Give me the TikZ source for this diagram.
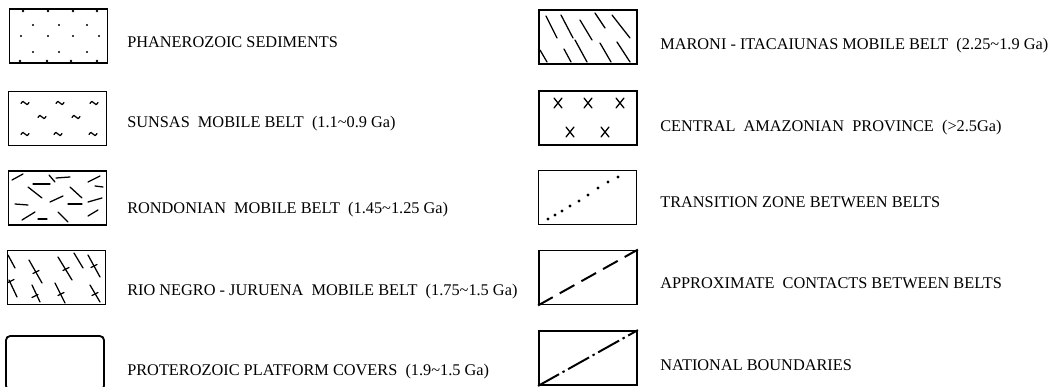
\documentclass[tikz,border=0pt]{standalone}
\usepackage{fontspec}
\setmainfont{Liberation Serif}
\usetikzlibrary{positioning}

\begin{document}
\begin{tikzpicture}[x=0.025cm, y=-0.025cm,
  keybox/.style={draw, line width=1.3pt, minimum width=2.45cm,
                 minimum height=1.35cm, inner sep=0pt},
  lbl/.style={anchor=base west, inner sep=0pt,
              font=\fontsize{11.6}{13}\selectfont},
  hatch/.style={line width=0.9pt, line cap=round},
  diag/.style={line width=1.4pt}
]
\useasboundingbox (0,0) rectangle (1059,387);

% left column
\node[keybox] (phan) at (58.5,36)   {};
\node[keybox] (suns) at (57.5,118.5){};
\node[keybox] (rond) at (57.5,198)  {};
\node[keybox] (rion) at (56.5,277.5){};
\node[keybox, rounded corners=3pt] (prot) at (55,363) {};

% right column
\node[keybox] (maro) at (588,37)    {};
\node[keybox] (cent) at (588,118)   {};
\node[keybox] (tran) at (587.5,197.5){};
\node[keybox] (appr) at (588,277.5) {};
\node[keybox] (natb) at (588,358)   {};

% phanerozoic dots
\foreach \x/\y in {33/25,59/25,87/25,21/36,48/36,73/36,99/36,33/52,59/52,87/52}
  \fill (\x,\y) circle (1.1);
\foreach \x in {23,48,73,97} \fill (\x,11) circle (1.4);
\foreach \x in {20,47,71,97} \fill (\x,61) circle (1.4);

% sunsas tildes
\foreach \x/\y in {25/103,60/103,94/103,42/117,76/117,25/134,58/134,93/134}
  \draw[hatch] (\x-4,\y+0.5) sin (\x-2,\y-1.5) cos (\x,\y) sin (\x+2,\y+1.5) cos (\x+4,\y-0.5);

% rondonian dashes
\foreach \a/\b/\c/\d in {12/180/23/174, 49/175/55/182, 56/178/70/177, 88/182/100/176,
    33/184/50/184, 28/187/42/198, 70/187/82/198, 95/186/103/187,
    50/202/63/196, 15/204/28/205, 68/204/82/204, 88/202/102/198,
    22/220/35/212, 38/219/47/219, 58/212/68/222, 88/216/98/210}
  \draw[hatch] (\a,\b) -- (\c,\d);

% rio negro - juruena hatching with ticks
\foreach \a/\b/\c/\d in {8/255/15/268, 9/280/17/297, 29/260/42/283, 32/285/40/302,
    58/257/72/280, 55/283/65/303, 74/253/83/268, 88/255/100/277, 90/285/100/302}
  \draw[hatch] (\a,\b) -- (\c,\d);
\foreach \x/\y in {11/281, 36/272, 35/296, 66/269, 61/294, 94/266, 95/294}
  \draw[hatch] (\x,\y) ++(-3,1.5) -- ++(6,-3);

% maroni - itacaiunas hatching
\foreach \a/\b/\c/\d in {546/16/557/38, 561/15/573/38, 580/20/592/40, 595/13/605/28,
    612/15/630/38, 540/50/547/62, 564/49/571/62, 575/40/587/62, 600/43/611/62,
    617/42/630/62}
  \draw[hatch] (\a,\b) -- (\c,\d);

% central amazonian crosses
\foreach \x/\y in {558/103,588/103,620/103,570/132,605/132}
  \draw[hatch] (\x-4,\y-5) -- (\x+4,\y+5) (\x+4,\y-5) -- (\x-4,\y+5);

% transition zone
\foreach \x/\y in {548/219,555/215,562/211,570/206,579/201,588/195,598/188,608/182,618/177}
  \fill (\x,\y) circle (1.6);

% contacts and boundaries
\draw[diag, dash pattern=on 0.42cm off 0.2cm] (appr.south west) -- (appr.north east);
\draw[diag, dash pattern=on 0.6cm off 0.1cm on 0.06cm off 0.1cm] (natb.south west) -- (natb.north east);

% labels
\node[lbl] (phanlbl) at (127,48)  {PHANEROZOIC SEDIMENTS};
\node[lbl] (sunslbl) at (127,128) {SUNSAS\ \ MOBILE BELT\ \ (1.1\textasciitilde 0.9 Ga)};
\node[lbl] (rondlbl) at (127,213) {RONDONIAN\ \ MOBILE BELT\ \ (1.45\textasciitilde 1.25 Ga)};
\node[lbl] (rionlbl) at (127,295) {RIO NEGRO - JURUENA\ \ MOBILE BELT\ \ (1.75\textasciitilde 1.5 Ga)};
\node[lbl] (protlbl) at (127,375) {PROTEROZOIC PLATFORM COVERS\ \ (1.9\textasciitilde 1.5 Ga)};
\node[lbl] (marolbl) at (660,50)  {MARONI - ITACAIUNAS MOBILE BELT\ \ (2.25\textasciitilde 1.9 Ga)};
\node[lbl] (centlbl) at (660,132) {CENTRAL\ \ AMAZONIAN\ \ PROVINCE\ \ (>2.5Ga)};
\node[lbl] (tranlbl) at (660,207) {TRANSITION ZONE BETWEEN BELTS};
\node[lbl] (apprlbl) at (660,288) {APPROXIMATE\ \ CONTACTS BETWEEN BELTS};
\node[lbl] (natblbl) at (660,370) {NATIONAL BOUNDARIES};
\end{tikzpicture}
\end{document}
